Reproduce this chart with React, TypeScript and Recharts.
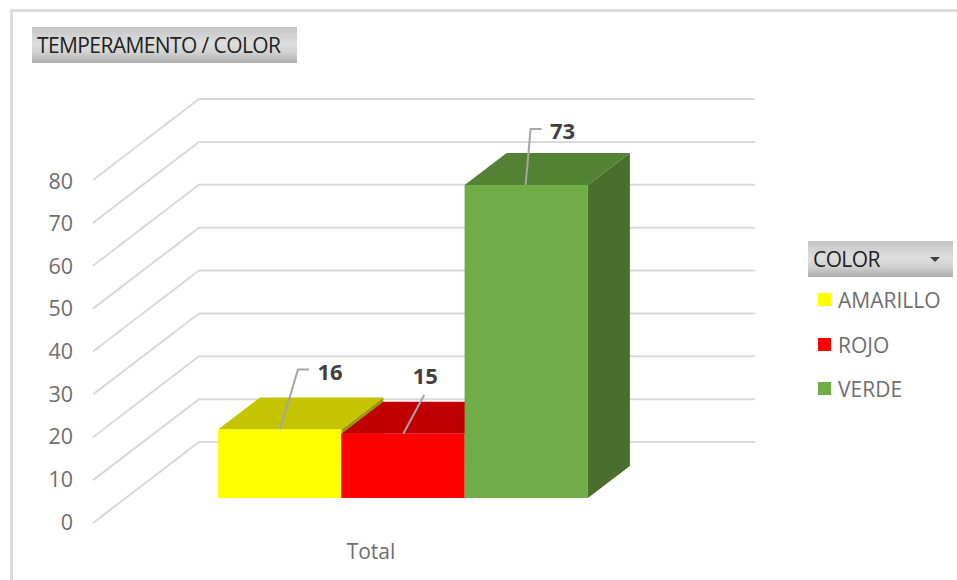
import React from "react";
import { BarChart, Bar, XAxis, YAxis, CartesianGrid, Legend, LabelList } from "recharts";

const categories = ["Total"];
const amarilloValues = [16];
const rojoValues = [15];
const verdeValues = [73];
const yTicks = [0, 10, 20, 30, 40, 50, 60, 70, 80];
const chartTitle = "TEMPERAMENTO / COLOR";
const legendTitle = "COLOR";

const data = categories.map((c, i) => ({
  category: c,
  AMARILLO: amarilloValues[i],
  ROJO: rojoValues[i],
  VERDE: verdeValues[i],
}));

const FONT = "'Open Sans', 'Noto Sans', sans-serif";
const DEPTH_X = 42;
const DEPTH_Y = 32;
const GRID = "#d9d9d9";
const TICK = "#6e6e6e";
const BOX_BG = "linear-gradient(#c4c4c4 0%, #dedede 45%, #d2d2d2 70%, #adadad 100%)";

const make3D = (front: string, top: string, side: string) => (props: any) => {
  const { x, y, width, height } = props;
  const r = x + width;
  const b = y + height;
  return (
    <g>
      <polygon points={`${r},${y} ${r + DEPTH_X},${y - DEPTH_Y} ${r + DEPTH_X},${b - DEPTH_Y} ${r},${b}`} fill={side} />
      <polygon points={`${x},${y} ${r},${y} ${r + DEPTH_X},${y - DEPTH_Y} ${x + DEPTH_X},${y - DEPTH_Y}`} fill={top} />
      <rect x={x} y={y} width={width} height={height} fill={front} />
    </g>
  );
};

const makeLeader = (path: number[][], lx: number, ly: number) => (props: any) => {
  const { x, y, value } = props;
  const pts = path.map(([dx, dy]) => `${x + dx},${y + dy}`).join(" ");
  return (
    <g>
      <polyline points={pts} fill="none" stroke="#a6a6a6" strokeWidth={2} />
      <text x={x + lx} y={y + ly} textAnchor="middle" dominantBaseline="central" fontFamily={FONT} fontWeight={700} fontSize={22} fill="#404040">
        {value}
      </text>
    </g>
  );
};

const gridLine = (props: any) => {
  const { x2, y1, index } = props;
  const pts = `93,${y1 + 25} 199,${y1 - 56} ${x2 + 49},${y1 - 56}`;
  return <polyline key={index ?? y1} points={pts} fill="none" stroke={GRID} strokeWidth={2} />;
};

const yTick = (props: any) => {
  const { y, payload } = props;
  return (
    <text x={73} y={y + 23 + payload.value / 40} textAnchor="end" dominantBaseline="central" fontFamily={FONT} fontSize={21.5} fill={TICK}>
      {payload.value}
    </text>
  );
};

const xTick = (props: any) => {
  const { x, payload } = props;
  return (
    <text x={x - 32} y={551} textAnchor="middle" dominantBaseline="central" fontFamily={FONT} fontSize={21} fill={TICK}>
      {payload.value}
    </text>
  );
};

const legendContent = (props: any) => (
  <div style={{ width: 145, fontFamily: FONT }}>
    <div style={{ height: 36, background: BOX_BG, position: "relative", color: "#222", fontSize: 21, letterSpacing: -0.6, lineHeight: "36px", paddingLeft: 5, boxSizing: "border-box" }}>
      {legendTitle}
      <span style={{ position: "absolute", left: 122, top: 16, width: 0, height: 0, borderLeft: "5px solid transparent", borderRight: "5px solid transparent", borderTop: "5px solid #404040" }} />
    </div>
    {(props.payload || []).map((e: any) => (
      <div key={e.value} style={{ height: 44.5, position: "relative", color: TICK, fontSize: 21, lineHeight: "46px" }}>
        <span style={{ position: "absolute", left: 10, top: 16, width: 13, height: 13, background: e.color }} />
        <span style={{ position: "absolute", left: 30, top: 0 }}>{e.value}</span>
      </div>
    ))}
  </div>
);

export default function App() {
  return (
    <div style={{ position: "absolute", left: 0, top: 0, width: 957, height: 580, background: "#fff", overflow: "hidden" }}>
      <div style={{ position: "absolute", left: 10, top: 9, width: 947, height: 3, background: "#dcdcdc" }} />
      <div style={{ position: "absolute", left: 10, top: 9, width: 3, height: 571, background: "#dcdcdc" }} />
      <div style={{ position: "absolute", left: 32, top: 27, width: 265, height: 36, background: BOX_BG, color: "#222", fontFamily: FONT, fontSize: 21, letterSpacing: -0.6, lineHeight: "36px", paddingLeft: 5, boxSizing: "border-box", whiteSpace: "nowrap", zIndex: 2 }}>
        {chartTitle}
      </div>
      <BarChart
        width={957}
        height={580}
        data={data}
        barGap={0}
        barSize={123.3}
        margin={{ top: 155, right: 251, bottom: 52, left: 40 }}
      >
        <CartesianGrid vertical={false} horizontal={gridLine} />
        <XAxis dataKey="category" axisLine={false} tickLine={false} height={30} tick={xTick} />
        <YAxis domain={[0, 80]} ticks={yTicks} axisLine={false} tickLine={false} width={60} tick={yTick} interval={0} />
        <Legend
          layout="vertical"
          align="center"
          verticalAlign="middle"
          content={legendContent}
          wrapperStyle={{ left: 808, top: 241, width: 145, right: "auto", bottom: "auto" }}
        />
        <Bar dataKey="AMARILLO" name="AMARILLO" fill="#ffff00" isAnimationActive={false} shape={make3D("#ffff00", "#c4c400", "#9c9c00")}>
          <LabelList dataKey="AMARILLO" content={makeLeader([[62, 0], [80, -60], [91, -60]], 112, -58)} />
        </Bar>
        <Bar dataKey="ROJO" name="ROJO" fill="#ff0000" isAnimationActive={false} shape={make3D("#ff0000", "#c00000", "#9c0000")}>
          <LabelList dataKey="ROJO" content={makeLeader([[62, 0], [83, -39]], 84, -59)} />
        </Bar>
        <Bar dataKey="VERDE" name="VERDE" fill="#70ad47" isAnimationActive={false} shape={make3D("#70ad47", "#548235", "#4a6e2c")}>
          <LabelList dataKey="VERDE" content={makeLeader([[61, 0], [66, -56], [77, -56]], 98, -55)} />
        </Bar>
      </BarChart>
    </div>
  );
}
